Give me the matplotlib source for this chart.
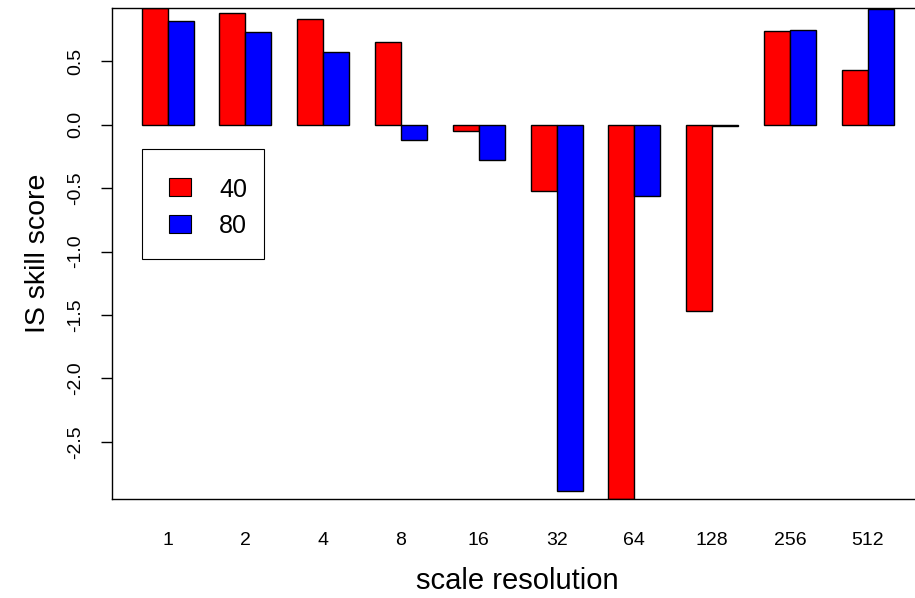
import numpy as np
import matplotlib
matplotlib.use("Agg")
import matplotlib.pyplot as plt
from matplotlib.patches import Rectangle

# values
scales = ["1", "2", "4", "8", "16", "32", "64", "128", "256", "512"]
series = ["40", "80"]
skill_40 = [0.92, 0.88, 0.83, 0.65, -0.05, -0.52, -2.95, -1.47, 0.74, 0.43]
skill_80 = [0.82, 0.73, 0.57, -0.12, -0.28, -2.89, -0.56, -0.01, 0.75, 0.91]
colors = ["red", "blue"]

plt.rcParams["font.family"] = ["Liberation Sans", "DejaVu Sans"]

W, H = 915, 598
fig = plt.figure(figsize=(W / 100, H / 100), dpi=100)

def fx(x):
    return x / W

def fy(y):
    return (H - y) / H

# R-like plot region (right edge runs past the image, as in the reference)
ax = fig.add_axes([fx(111.6), fy(499), fx(923.8) - fx(111.6), fy(8) - fy(499)])

n = len(scales)
grp = np.arange(n)
for j, vals in enumerate([skill_40, skill_80]):
    ax.bar(1 + 3 * grp + j, vals, width=1, align="edge", color=colors[j],
           edgecolor="black", linewidth=1.0)

allv = skill_40 + skill_80
ax.set_ylim(min(allv), max(allv))
span = 3 * n - 1
ax.set_xlim(1 - 0.04 * span, 3 * n + 0.04 * span)

ax.set_xticks(2 + 3 * grp)
ax.set_xticklabels(scales)
ax.tick_params(axis="x", length=0, pad=23.5, labelsize=14)

yt = np.arange(-2.5, 0.51, 0.5)
ax.set_yticks(yt)
ax.set_yticklabels([f"{v:.1f}" for v in yt])
ax.tick_params(axis="y", length=8, width=1, pad=11.5, labelsize=14, labelrotation=90)
for lab in ax.get_yticklabels():
    lab.set_va("center")

for s in ax.spines.values():
    s.set_linewidth(1.0)

ax.set_xlabel("scale resolution", fontsize=21, labelpad=13)
ax.set_ylabel("IS skill score", fontsize=20.5, labelpad=12)

# legend box drawn the way R's legend() places it
fig.patches.append(Rectangle((fx(142.3), fy(259.3)), fx(264.3) - fx(142.3),
                             fy(149.3) - fy(259.3), transform=fig.transFigure,
                             facecolor="white", edgecolor="black", linewidth=0.8,
                             zorder=5))
for j, (lab, c) in enumerate(zip(series, colors)):
    top = 178.3 + 36.7 * j
    fig.patches.append(Rectangle((fx(169), fy(top + 17.7)), fx(191) - fx(169),
                                 fy(top) - fy(top + 17.7), transform=fig.transFigure,
                                 facecolor=c, edgecolor="black", linewidth=0.8,
                                 zorder=6))
    fig.text(fx(219), fy(197 + 36.3 * j), lab, fontsize=18, ha="left",
             va="baseline", zorder=6)

fig.savefig("out.png", dpi=100)
